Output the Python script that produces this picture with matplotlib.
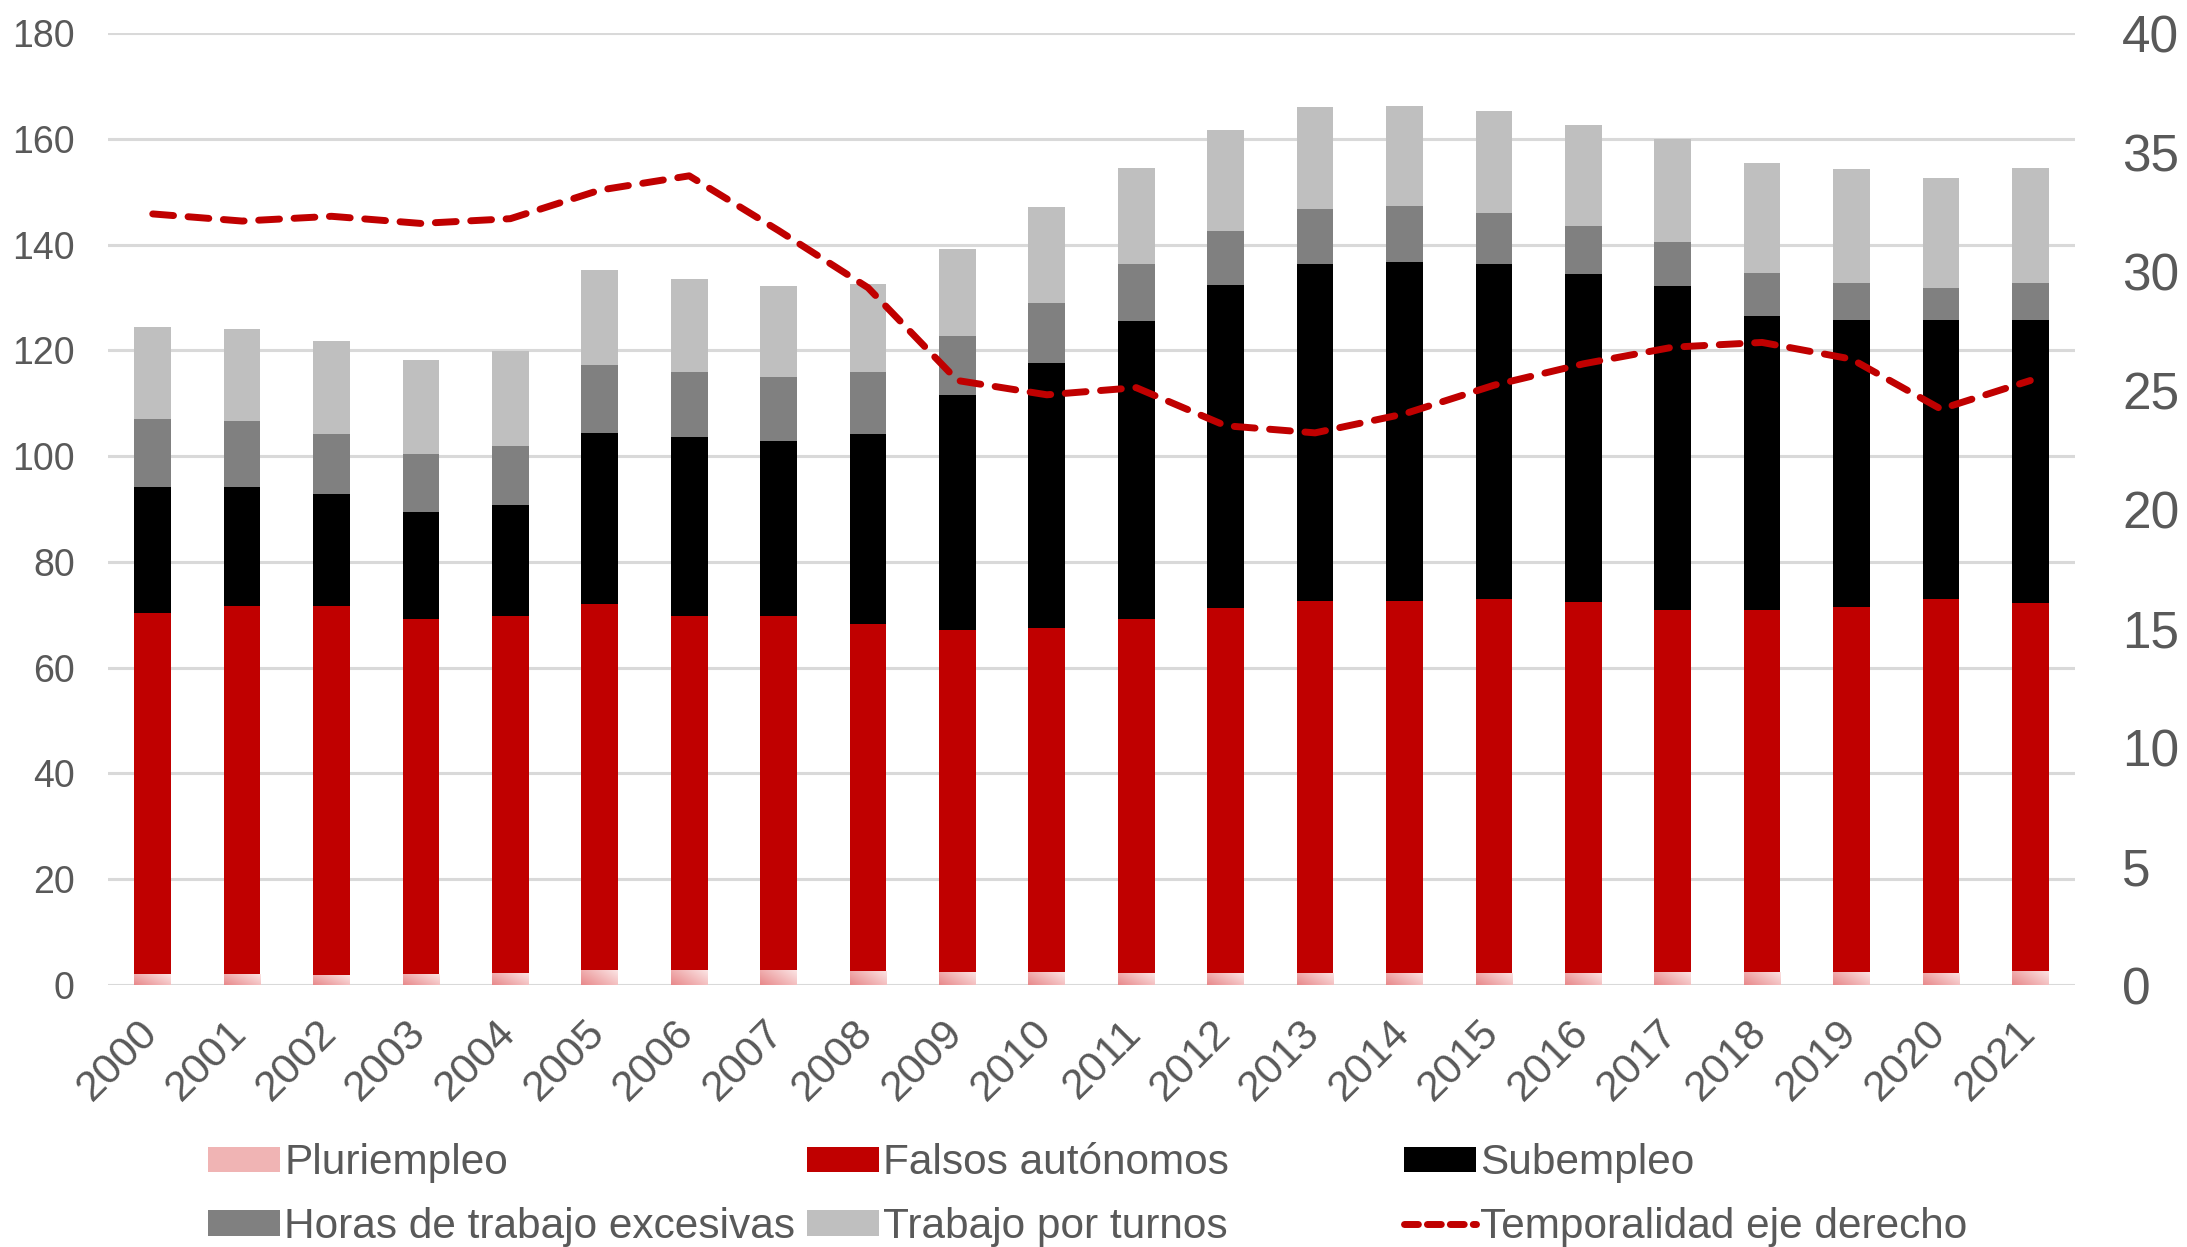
import numpy as np
import matplotlib
matplotlib.use("Agg")
import matplotlib.pyplot as plt
import matplotlib.transforms as mtransforms
from matplotlib.patches import Patch
from matplotlib.lines import Line2D

plt.rcParams['font.family'] = ['Liberation Sans', 'DejaVu Sans']

# Datos
anios = [str(a) for a in range(2000, 2022)]

pluriempleo = [2.0, 2.0, 1.8, 2.0, 2.2, 2.8, 2.8, 2.8, 2.7, 2.5, 2.4,
               2.2, 2.2, 2.3, 2.3, 2.3, 2.3, 2.5, 2.5, 2.5, 2.3, 2.7]
# alturas acumuladas leídas (tope de cada serie)
tope_falsos = [70.4, 71.7, 71.7, 69.3, 69.8, 72.0, 69.8, 69.8, 68.3, 67.2, 67.5,
               69.3, 71.2, 72.7, 72.7, 73.0, 72.5, 70.9, 70.9, 71.4, 73.0, 72.2]
tope_sub = [94.1, 94.1, 92.8, 89.4, 90.7, 104.4, 103.6, 102.8, 104.1, 111.5, 117.6,
            125.5, 132.3, 136.3, 136.8, 136.3, 134.4, 132.1, 126.5, 125.7, 125.7, 125.7]
tope_horas = [107.0, 106.7, 104.1, 100.4, 102.0, 117.3, 116.0, 114.9, 116.0, 122.8, 128.9,
              136.3, 142.6, 146.8, 147.3, 146.0, 143.6, 140.5, 134.7, 132.8, 131.8, 132.8]
tope_turnos = [124.4, 124.1, 121.8, 118.1, 119.9, 135.2, 133.4, 132.1, 132.6, 139.2, 147.1,
               154.5, 161.6, 166.1, 166.3, 165.3, 162.6, 160.0, 155.5, 154.2, 152.6, 154.5]

temporalidad = [32.4, 32.1, 32.3, 32.0, 32.2, 33.4, 34.0, 31.7, 29.3, 25.4, 24.8,
                25.1, 23.5, 23.2, 24.0, 25.2, 26.1, 26.8, 27.0, 26.3, 24.2, 25.4]

p = np.array(pluriempleo)
falsos = np.array(tope_falsos) - p
sub = np.array(tope_sub) - np.array(tope_falsos)
horas = np.array(tope_horas) - np.array(tope_sub)
turnos = np.array(tope_turnos) - np.array(tope_horas)

gris_texto = '#595959'
rojo = '#C00000'

fig = plt.figure(figsize=(21.87, 12.47), dpi=100)
ax = fig.add_axes([0.0494, 0.2101, 0.8994, 0.7634])
x = np.arange(len(anios))
w = 0.41

barras_p = ax.bar(x, p, w, color='#F0B4B4', zorder=2)
ax.bar(x, falsos, w, bottom=p, color=rojo, zorder=2)
ax.bar(x, sub, w, bottom=p + falsos, color='#000000', zorder=2)
ax.bar(x, horas, w, bottom=p + falsos + sub, color='#808080', zorder=2)
ax.bar(x, turnos, w, bottom=p + falsos + sub + horas, color='#BFBFBF', zorder=2)

# degradado del pluriempleo
grad = np.linspace(0, 1, 64).reshape(1, -1) + np.linspace(0, 1, 16).reshape(-1, 1) * 0.6
grad = grad / grad.max()
cmap = matplotlib.colors.LinearSegmentedColormap.from_list('pl', ['#E8898B', '#FBE3E3'])
for b in barras_p:
    x0, y0 = b.get_x(), b.get_y()
    im = ax.imshow(grad, extent=(x0, x0 + b.get_width(), y0 + b.get_height(), y0),
                   cmap=cmap, aspect='auto', zorder=3, origin='upper')
    im.set_clip_path(b)

ax.set_xlim(-0.5, len(anios) - 0.5)
ax.set_ylim(0, 180)
ax.set_yticks(range(0, 181, 20))
ax.grid(axis='y', color='#D9D9D9', lw=2.2, zorder=0)
ax.set_axisbelow(True)
for s in ax.spines.values():
    s.set_visible(False)
ax.tick_params(axis='y', length=0, pad=24, labelsize=27, labelcolor=gris_texto)
ax.tick_params(axis='x', length=0, pad=20, labelsize=31, labelcolor=gris_texto)
ax.set_xticks(x)
ax.set_xticklabels(anios, rotation=45, ha='right', rotation_mode='anchor')
desplaza = mtransforms.ScaledTranslation(-11 / 72, 0, fig.dpi_scale_trans)
for lab in ax.get_xticklabels():
    lab.set_transform(lab.get_transform() + desplaza)

ax2 = ax.twinx()
ax2.set_ylim(0, 40)
ax2.set_yticks(range(0, 41, 5))
for s in ax2.spines.values():
    s.set_visible(False)
ax2.tick_params(axis='y', length=0, pad=34, labelsize=37, labelcolor=gris_texto)
ax2.plot(x, temporalidad, color=rojo, lw=5, dashes=(3.0, 2.1),
         dash_capstyle='round', solid_joinstyle='round', zorder=4)

# Leyenda en tres columnas
h_pl = Patch(facecolor='#F0B4B4')
h_fa = Patch(facecolor=rojo)
h_su = Patch(facecolor='#000000')
h_ho = Patch(facecolor='#808080')
h_tu = Patch(facecolor='#BFBFBF')
h_te = Line2D([], [], color=rojo, lw=5, dashes=(2.0, 1.3), dash_capstyle='round')

columnas = [([h_pl, h_ho], ['Pluriempleo', 'Horas de trabajo excesivas'], 0.095),
            ([h_fa, h_tu], ['Falsos autónomos', 'Trabajo por turnos'], 0.369),
            ([h_su, h_te], ['Subempleo', 'Temporalidad eje derecho'], 0.642)]
for hs, ls, xpos in columnas:
    fig.legend(hs, ls, loc='upper left', bbox_to_anchor=(xpos, 0.083),
               frameon=False, fontsize=30.5, labelcolor=gris_texto,
               handlelength=1.7, handleheight=0.55, handletextpad=0.1,
               labelspacing=0.55, borderaxespad=0, borderpad=0)

fig.savefig('out.png', dpi=100)
